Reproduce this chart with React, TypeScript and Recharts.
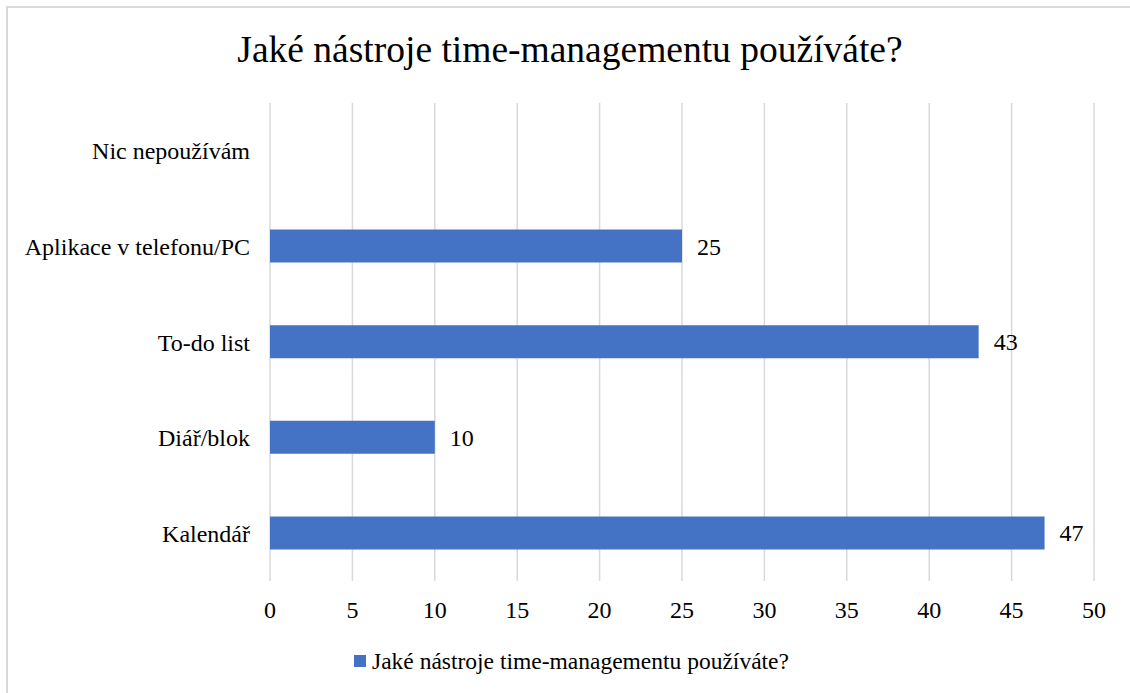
import React from 'react';
import { BarChart, Bar, XAxis, YAxis, CartesianGrid, Legend, LabelList } from 'recharts';

const TITLE = 'Jaké nástroje time-managementu používáte?';
const categories = ['Nic nepoužívám', 'Aplikace v telefonu/PC', 'To-do list', 'Diář/blok', 'Kalendář'];
const values = [0, 25, 43, 10, 47];
const xTicks = [0, 5, 10, 15, 20, 25, 30, 35, 40, 45, 50];

const data = categories.map((c, i) => ({ name: c, value: values[i] }));

const FONT = '"Liberation Serif", "Times New Roman", serif';
const BAR_COLOR = '#4472C4';

const LegendContent = () => (
  <div style={{ height: 40, display: 'flex', alignItems: 'center', justifyContent: 'flex-start', paddingLeft: 354, fontFamily: FONT, fontSize: 23.5, color: '#000' }}>
    <span style={{ display: 'inline-block', width: 12, height: 12, background: BAR_COLOR, marginRight: 6 }} />
    <span>{TITLE}</span>
  </div>
);

export default function App() {
  return (
    <div style={{ position: 'absolute', left: 0, top: 0, width: 1130, height: 693, background: '#fff', overflow: 'hidden' }}>
      <div style={{ position: 'absolute', left: 6, top: 6, width: 1200, height: 800, boxSizing: 'border-box', borderLeft: '2px solid #d9d9d9', borderTop: '2px solid #d9d9d9' }} />
      <div style={{ position: 'absolute', left: 0, top: 28, width: 1140, textAlign: 'center', fontFamily: FONT, fontSize: 37.5, color: '#000', lineHeight: '44px' }}>
        {TITLE}
      </div>
      <div style={{ position: 'absolute', left: 0, top: 0 }}>
        <BarChart width={1130} height={693} data={data} layout="vertical" margin={{ top: 103, right: 36, left: 0, bottom: 12 }} barSize={33}>
          <CartesianGrid horizontal={false} stroke="#d9d9d9" strokeWidth={1.5} />
          <XAxis type="number" domain={[0, 50]} ticks={xTicks} axisLine={false} tickLine={false} tickSize={0} tickMargin={20} height={60} interval={0}
            tick={{ fontFamily: FONT, fontSize: 24, fill: '#000' }} />
          <YAxis type="category" dataKey="name" width={270} axisLine={false} tickLine={false} tickSize={0} tickMargin={20}
            tick={{ fontFamily: FONT, fontSize: 24, fill: '#000' }} />
          <Legend verticalAlign="bottom" content={LegendContent} />
          <Bar dataKey="value" name={TITLE} fill={BAR_COLOR} isAnimationActive={false}>
            <LabelList dataKey="value" position="right" offset={15} formatter={(v: any) => (v === 0 ? '' : v)}
              style={{ fontFamily: FONT, fontSize: 24, fill: '#000' }} />
          </Bar>
        </BarChart>
      </div>
    </div>
  );
}
